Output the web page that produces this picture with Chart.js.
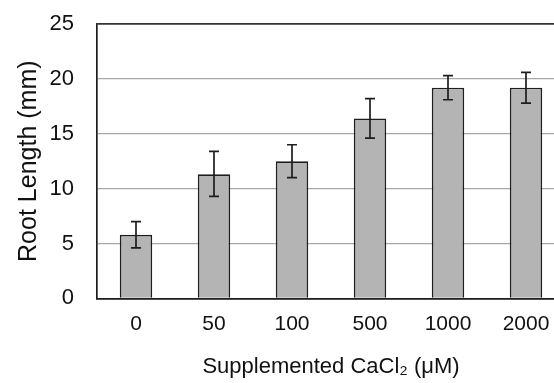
<!DOCTYPE html>
<html>
<head>
<meta charset="utf-8">
<script src="https://cdn.jsdelivr.net/npm/chart.js@4"></script>
<style>
html,body{margin:0;padding:0;background:#fff;overflow:hidden;}
#wrap{width:568px;height:383px;}
</style>
</head>
<body>
<div id="wrap"><canvas id="c" width="568" height="383"></canvas></div>
<script>
const categories = ['0', '50', '100', '500', '1000', '2000'];
const rootLength = [5.8, 11.3, 12.5, 16.4, 19.2, 19.2];
const errorUpper = [1.2, 2.1, 1.5, 1.8, 1.1, 1.4];
const errorLower = [1.2, 2.0, 1.5, 1.8, 1.1, 1.4];
const yTicks = [0, 5, 10, 15, 20, 25];

const FONT = 'Liberation Sans, Arial, Helvetica, sans-serif';

const errorBars = {
  id: 'errorBars',
  afterDatasetsDraw(chart) {
    const ctx = chart.ctx;
    const meta = chart.getDatasetMeta(0);
    const y = chart.scales.y;
    ctx.save();
    ctx.strokeStyle = '#1e1e1e';
    ctx.lineWidth = 1.7;
    meta.data.forEach((bar, i) => {
      const x = bar.x;
      const yt = y.getPixelForValue(rootLength[i] + errorUpper[i]);
      const yb = y.getPixelForValue(rootLength[i] - errorLower[i]);
      ctx.beginPath();
      ctx.moveTo(x, yt); ctx.lineTo(x, yb);
      ctx.moveTo(x - 5, yt); ctx.lineTo(x + 5, yt);
      ctx.moveTo(x - 5, yb); ctx.lineTo(x + 5, yb);
      ctx.stroke();
    });
    ctx.restore();
  }
};

new Chart(document.getElementById('c'), {
  type: 'bar',
  data: {
    labels: categories,
    datasets: [{
      data: rootLength,
      backgroundColor: '#b4b4b4',
      borderColor: '#1e1e1e',
      borderWidth: 1.7,
      borderSkipped: 'bottom',
      barPercentage: 0.8,
      categoryPercentage: 0.52
    }]
  },
  options: {
    responsive: false,
    animation: false,
    devicePixelRatio: 1,
    layout: { padding: { left: 14, right: 3, top: 24, bottom: 3 } },
    plugins: { legend: { display: false }, tooltip: { enabled: false } },
    scales: {
      x: {
        grid: { display: false, drawTicks: false },
        border: { display: true, color: '#1e1e1e', width: 1.7 },
        ticks: { color: '#111', font: { family: FONT, size: 21 }, padding: 13, maxRotation: 0 },
        title: { display: true, text: 'Supplemented CaCl₂ (μM)', color: '#111',
                 font: { family: FONT, size: 22 }, padding: { top: 4, bottom: 0 } }
      },
      y: {
        min: 0, max: 25,
        afterBuildTicks(scale) { scale.ticks = yTicks.map(v => ({ value: v })); },
        afterFit(scale) { scale.width = 97 - 14; scale.paddingTop = 0; scale.paddingBottom = 0; },
        grid: {
          drawTicks: false,
          color: ctx => (ctx.tick && ctx.tick.value === 25) ? '#333' : '#a8a8a8',
          lineWidth: ctx => (ctx.tick && ctx.tick.value === 25) ? 1.7 : 1.2
        },
        border: { display: true, color: '#1e1e1e', width: 1.7 },
        ticks: { color: '#111', font: { family: FONT, size: 22 }, padding: 23 },
        title: { display: true, text: 'Root Length (mm)', color: '#111',
                 font: { family: FONT, size: 25 }, padding: { top: 0, bottom: 0 } }
      }
    }
  },
  plugins: [errorBars]
});
</script>
</body>
</html>
